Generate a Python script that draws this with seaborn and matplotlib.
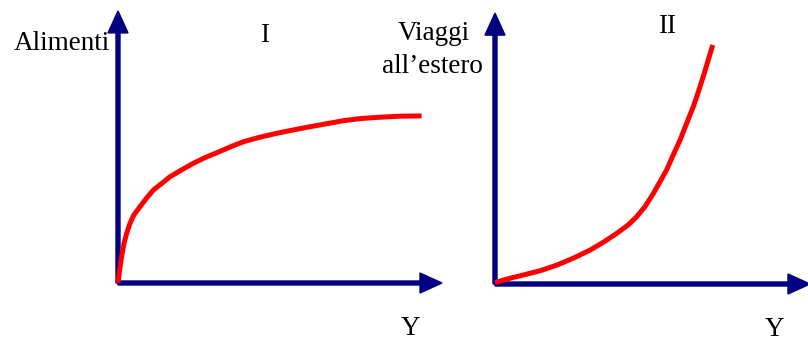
import seaborn as sns
import matplotlib.pyplot as plt
import pandas as pd

# Curva di Engel I: alimenti (bene necessario)
reddito_1 = [0.0, 0.07, 0.12, 0.2, 0.29, 0.4, 0.53, 0.73, 0.96, 1.18, 1.46, 1.73, 2.12,
             2.51, 2.9, 3.29, 3.73, 4.18, 4.73, 5.29, 5.84, 6.4, 6.96, 7.51, 8.07,
             8.62, 9.4, 10.12]
alimenti = [0.0, 0.54, 0.88, 1.32, 1.66, 1.99, 2.27, 2.54, 2.84, 3.1, 3.32, 3.54, 3.77,
            3.99, 4.18, 4.34, 4.53, 4.71, 4.86, 4.99, 5.1, 5.21, 5.31, 5.41, 5.48,
            5.52, 5.56, 5.57]

# Curva di Engel II: viaggi all'estero (bene di lusso)
reddito_2 = [0.0, 0.5, 0.94, 1.5, 2.06, 2.61, 3.17, 3.61, 4.06, 4.44, 4.72, 5.0, 5.28,
             5.5, 5.72, 5.94, 6.17, 6.39, 6.61, 6.78, 6.94, 7.26]
viaggi = [0.05, 0.19, 0.3, 0.44, 0.63, 0.86, 1.13, 1.39, 1.69, 1.97, 2.24, 2.58, 3.02,
          3.41, 3.8, 4.3, 4.8, 5.36, 5.91, 6.41, 6.91, 7.97]

sns.set_style("white")
plt.rcParams['font.family'] = ['Liberation Serif', 'DejaVu Serif']
plt.rcParams['text.color'] = 'black'

W, H = 808, 337
fig = plt.figure(figsize=(W / 100, H / 100), dpi=100)

# 30 px per unit in both panels
ax1 = fig.add_axes([118 / W, 54 / H, 330 / W, 275 / H])
ax1.set_xlim(0, 11)
ax1.set_ylim(0, 275 / 30)
ax2 = fig.add_axes([495 / W, 53 / H, 313 / W, 280 / H])
ax2.set_xlim(0, 313 / 30)
ax2.set_ylim(0, 280 / 30)

navy = '#000080'
arrow_kw = dict(width=4 / 30, head_width=20 / 30, head_length=22 / 30,
                length_includes_head=True, color=navy, clip_on=False, zorder=1)

df1 = pd.DataFrame({'reddito': reddito_1, 'q': alimenti})
df2 = pd.DataFrame({'reddito': reddito_2, 'q': viaggi})

for ax, df, ytip, xtip in [(ax1, df1, 9.07, 10.8), (ax2, df2, 9.03, 10.5)]:
    ax.set_axis_off()
    ax.arrow(0, 0, 0, ytip, **arrow_kw)
    ax.arrow(0, 0, xtip, 0, **arrow_kw)
    sns.lineplot(data=df, x='reddito', y='q', ax=ax, color='#ff0000',
                 linewidth=3.6, sort=False, estimator=None, zorder=3)
    ax.lines[-1].set_clip_on(False)
    ax.lines[-1].set_solid_capstyle('butt')
    ax.lines[-1].set_solid_joinstyle('round')

fs = 19.5
ax1.text(-0.27, 7.77, 'Alimenti', ha='right', va='baseline', fontsize=fs)
ax1.text(4.87, 8.03, 'I', ha='center', va='baseline', fontsize=fs)
ax1.text(9.76, -1.72, 'Y', ha='center', va='baseline', fontsize=fs)

ax2.text(-2.03, 8.13, 'Viaggi', ha='center', va='baseline', fontsize=fs)
ax2.text(-2.08, 7.03, 'all’estero', ha='center', va='baseline', fontsize=fs)
ax2.text(5.73, 8.37, 'II', ha='center', va='baseline', fontsize=fs)
ax2.text(9.33, -1.75, 'Y', ha='center', va='baseline', fontsize=fs)

fig.savefig('out.png', dpi=100)
